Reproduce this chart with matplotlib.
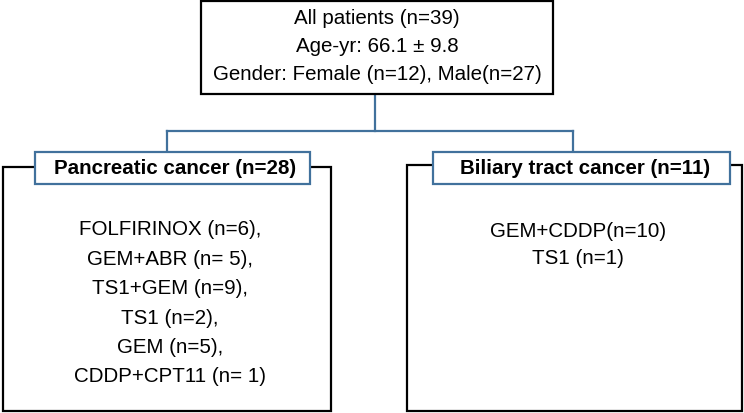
import matplotlib.pyplot as plt
from matplotlib.patches import Rectangle

plt.rcParams['font.family'] = ['Liberation Sans', 'DejaVu Sans']

# texts of the flowchart
top_lines = ['All patients (n=39)', 'Age-yr: 66.1 \u00b1 9.8', 'Gender: Female (n=12), Male(n=27)']
groups = ['Pancreatic cancer (n=28)', 'Biliary tract cancer (n=11)']
pancreatic_regimens = ['FOLFIRINOX (n=6),', 'GEM+ABR (n= 5),', 'TS1+GEM (n=9),',
                       'TS1 (n=2),', 'GEM (n=5),', 'CDDP+CPT11 (n= 1)']
biliary_regimens = ['GEM+CDDP(n=10)', 'TS1 (n=1)']

blue = '#41719C'
fs = 14.8

fig = plt.figure(figsize=(7.44, 4.14), dpi=100)
ax = fig.add_axes([0, 0, 1, 1])
ax.set_xlim(0, 744)
ax.set_ylim(414, 0)
ax.axis('off')

def box(x0, y0, x1, y1, color, lw=1.6, z=1):
    ax.add_patch(Rectangle((x0, y0), x1 - x0, y1 - y0, fill=True, facecolor='white',
                           edgecolor=color, linewidth=lw, zorder=z))

# top box
box(201, 2, 553, 95, 'black')
for i, t in enumerate(top_lines):
    ax.text(377, 18 + i * 28.5, t, ha='center', va='center', fontsize=fs)

# connectors
ax.plot([375, 375], [95, 132], color=blue, lw=1.6, zorder=0)
ax.plot([167, 573], [132, 132], color=blue, lw=1.6, zorder=0)
ax.plot([167, 167], [132, 153], color=blue, lw=1.6, zorder=0)
ax.plot([573, 573], [132, 153], color=blue, lw=1.6, zorder=0)

# group boxes
box(3, 168, 331, 412, 'black', z=1)
box(407, 166, 742, 412, 'black', z=1)
box(35, 153, 310, 185, blue, z=2)
box(433, 153, 730, 185, blue, z=2)
ax.text(175, 169, groups[0], ha='center', va='center', fontsize=fs, fontweight='bold', zorder=3)
ax.text(585, 169, groups[1], ha='center', va='center', fontsize=fs, fontweight='bold', zorder=3)

for i, t in enumerate(pancreatic_regimens):
    ax.text(170, 230 + i * 29.4, t, ha='center', va='center', fontsize=fs)
for i, t in enumerate(biliary_regimens):
    ax.text(578, 232 + i * 26.5, t, ha='center', va='center', fontsize=fs)

fig.savefig('out.png', dpi=100)
